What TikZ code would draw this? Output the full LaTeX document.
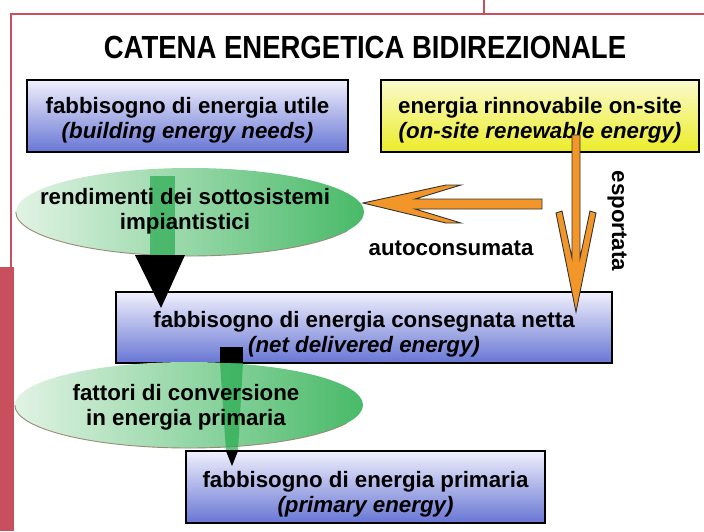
\documentclass[tikz,border=0pt]{standalone}
\usepackage{fontspec}
\setmainfont{Liberation Sans}
\usetikzlibrary{shapes.geometric}
\definecolor{framered}{RGB}{200,80,92}
\definecolor{boxblueT}{RGB}{240,240,252}
\definecolor{boxblueB}{RGB}{104,118,212}
\definecolor{yelT}{RGB}{250,250,205}
\definecolor{yelB}{RGB}{236,236,40}
\definecolor{orangeA}{RGB}{242,150,42}
\definecolor{greenA}{RGB}{72,186,104}
\definecolor{greenM}{RGB}{120,204,142}
\definecolor{greenL}{RGB}{225,243,228}
\definecolor{greenS}{RGB}{40,170,80}
\definecolor{rimcol}{RGB}{150,140,120}
\begin{document}
\begin{tikzpicture}[x=1pt,y=-1pt,
  txt/.style={font=\fontsize{22.3}{25}\selectfont\bfseries, align=center, inner sep=0pt},
  bluebox/.style={draw=black, line width=1.2pt, top color=boxblueT, bottom color=boxblueB, inner sep=0pt},
  yelbox/.style={draw=black, line width=1.2pt, top color=yelT, bottom color=yelB, inner sep=0pt},
  greenell/.style={ellipse, draw=none, left color=greenL, middle color=greenM, right color=greenA, inner sep=0pt},
  rim/.style={draw=rimcol, line width=0.9pt},
  orarrow/.style={fill=orangeA, draw=black!80, line width=0.9pt, line join=miter},
  shaft/.style={fill=greenS, opacity=0.7},
  frame/.style={draw=framered, line width=2pt}
]
\useasboundingbox (0,0) rectangle (704,531);
\fill[white] (0,0) rectangle (704,531);
% red frame
\draw[frame] (11,267) -- (11,14) -- (704,14);
\draw[frame] (484,0) -- (484,14);
\fill[framered] (0,267) rectangle (14,531);

% title
\node[font=\fontsize{32}{36}\selectfont\bfseries, inner sep=0pt] (title) at (365,47)
  {\scalebox{0.86}[1]{CATENA ENERGETICA BIDIREZIONALE}};

% top boxes
\node[bluebox, minimum width=321pt, minimum height=72pt] (useful) at (187.5,116) {};
\node[txt] (usefultxt) at ([yshift=-4pt]useful.center)
  {fabbisogno di energia utile\\\itshape (building energy needs)};
\node[yelbox, minimum width=318pt, minimum height=72pt] (renew) at (540,116) {};
\node[txt] (renewtxt) at ([yshift=-4pt]renew.center)
  {energia rinnovabile on-site\\\itshape (on-site renewable energy)};

% ellipse 1
\node[greenell, minimum width=348pt, minimum height=88pt] (eff) at (190,212) {};
\draw[rim] (eff.west) arc[start angle=180, end angle=25, x radius=174, y radius=44];
\fill[shaft] (150,176) rectangle (175,256);
\node[txt] (efftxt) at (185,211) {rendimenti dei sottosistemi\\impiantistici};

% net delivered box
\node[bluebox, minimum width=496pt, minimum height=71pt] (net) at (364,327.5) {};
\node[txt] (nettxt) at ([yshift=-7pt]net.center)
  {fabbisogno di energia consegnata netta\\\itshape (net delivered energy)};

% black arrow head from ellipse 1 to net box
\coordinate (t1) at (161,308);
\fill[black] (135,255) -- (185,255) -- (t1) -- cycle;

% ellipse 2
\node[greenell, minimum width=348pt, minimum height=86pt] (conv) at (189,405) {};
\draw[rim] (conv.west) arc[start angle=180, end angle=25, x radius=174, y radius=43];
\fill[shaft] (220,363) -- (243,363) -- (238,451) -- (226,451) -- cycle;
\node[txt] (convtxt) at (186,407) {fattori di conversione\\in energia primaria};
\fill[black] (220,347) rectangle (243,363);

% primary box
\node[bluebox, minimum width=359pt, minimum height=72pt] (prim) at (365.5,487) {};
\node[txt] (primtxt) at ([yshift=-7pt]prim.center)
  {fabbisogno di energia primaria\\\itshape (primary energy)};
\coordinate (t2) at (232,466);
\fill[black] (226,451) -- (238,451) -- (t2) -- cycle;

% orange arrow: autoconsumata (renew -> eff)
\draw[orarrow] (363,203) -- (446,185) -- (461,185) -- (415,199) -- (542,199)
  -- (542,209) -- (415,209) -- (461,223) -- (446,223) -- cycle;
% orange arrow: esportata (renew -> net)
\draw[orarrow] (576,312) -- (556,213) -- (562,211) -- (572,258) -- (572,135)
  -- (580,135) -- (580,258) -- (590,211) -- (596,213) -- cycle;

\node[txt] (auto) at (451,248) {autoconsumata};
\node[txt, rotate=-90] (esp) at (617,221) {esportata};
\end{tikzpicture}
\end{document}
